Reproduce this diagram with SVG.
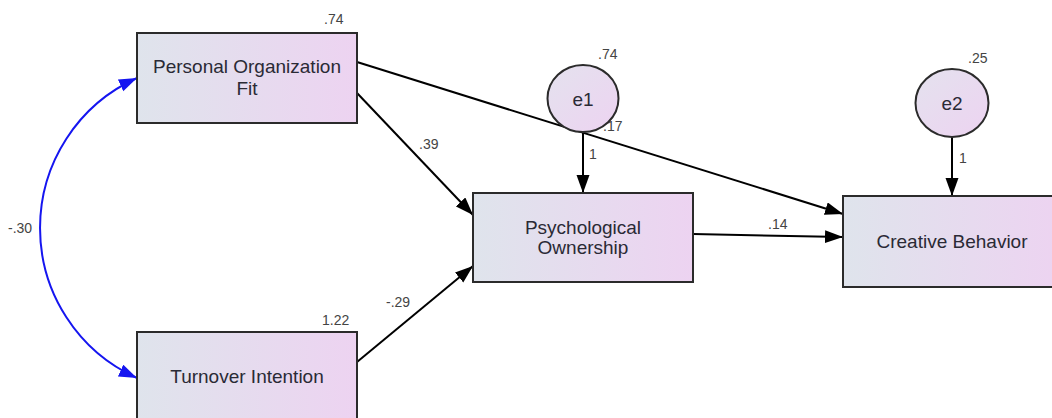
<svg xmlns="http://www.w3.org/2000/svg" width="1052" height="418" viewBox="0 0 1052 418">
<defs>
<linearGradient id="g" x1="0" y1="0" x2="1" y2="0">
<stop offset="0" stop-color="#dfe4ec"/>
<stop offset="1" stop-color="#edd3f1"/>
</linearGradient>
<linearGradient id="gc" x1="0" y1="0" x2="1" y2="1">
<stop offset="0" stop-color="#e4e2ee"/>
<stop offset="1" stop-color="#edd3f1"/>
</linearGradient>
<marker id="ah" markerUnits="userSpaceOnUse" markerWidth="19" markerHeight="14" refX="18" refY="6.5" orient="auto">
<path d="M0,0 L18,6.5 L0,13 z" fill="#000"/>
</marker>
<marker id="ab" markerUnits="userSpaceOnUse" markerWidth="19" markerHeight="14" refX="18" refY="6.5" orient="auto-start-reverse">
<path d="M0,0 L18,6.5 L0,13 z" fill="#1515f0"/>
</marker>
</defs>
<style>
.box{fill:url(#g);stroke:#2b2b2b;stroke-width:2}
.circ{fill:url(#gc);stroke:#2b2b2b;stroke-width:2}
.lbl{font-family:"Liberation Sans",Arial,sans-serif;font-size:19px;fill:#2a2a35;text-anchor:middle}
.num{font-family:"Liberation Sans",Arial,sans-serif;font-size:14px;fill:#444}
.edge{stroke:#000;stroke-width:2;fill:none;marker-end:url(#ah)}
.cov{stroke:#1515f0;stroke-width:2;fill:none;marker-start:url(#ab);marker-end:url(#ab)}
</style>
<g id="connectors">
<path class="cov" d="M137,78 A164.5,164.5 0 0 0 137,378"/>
<line class="edge" x1="357" y1="62" x2="843" y2="214"/>
<line class="edge" x1="357" y1="93" x2="473" y2="215"/>
<line class="edge" x1="357" y1="362" x2="473" y2="266"/>
<line class="edge" x1="693" y1="234" x2="843" y2="237"/>
<line class="edge" x1="583" y1="132" x2="583" y2="193"/>
<line class="edge" x1="952" y1="137" x2="952" y2="196"/>
</g>
<g id="labels">
<text class="num" x="8" y="233">-.30</text>
<text class="num" x="419" y="149">.39</text>
<text class="num" x="386" y="307">-.29</text>
<text class="num" x="768" y="229">.14</text>
<text class="num" x="603" y="131">.17</text>
<text class="num" x="589" y="159">1</text>
<text class="num" x="959" y="163">1</text>
</g>
<g id="pof">
<rect class="box" x="137" y="33" width="220" height="90"/>
<text class="lbl" x="247" y="73">Personal Organization</text>
<text class="lbl" x="247" y="95">Fit</text>
<text class="num" x="324" y="24">.74</text>
</g>
<g id="ti">
<rect class="box" x="137" y="332" width="220" height="92"/>
<text class="lbl" x="247" y="383">Turnover Intention</text>
<text class="num" x="322" y="325">1.22</text>
</g>
<g id="po">
<rect class="box" x="473" y="193" width="220" height="89"/>
<text class="lbl" x="583" y="234">Psychological</text>
<text class="lbl" x="583" y="254">Ownership</text>
</g>
<g id="cb">
<rect class="box" x="843" y="196" width="220" height="91"/>
<text class="lbl" x="952" y="248">Creative Behavior</text>
</g>
<g id="e1">
<ellipse class="circ" cx="583" cy="98.5" rx="35.5" ry="33.5"/>
<text class="lbl" x="583" y="106">e1</text>
<text class="num" x="598" y="59">.74</text>
</g>
<g id="e2">
<ellipse class="circ" cx="952" cy="103" rx="36.5" ry="34"/>
<text class="lbl" x="952" y="110">e2</text>
<text class="num" x="968" y="63">.25</text>
</g>
</svg>
